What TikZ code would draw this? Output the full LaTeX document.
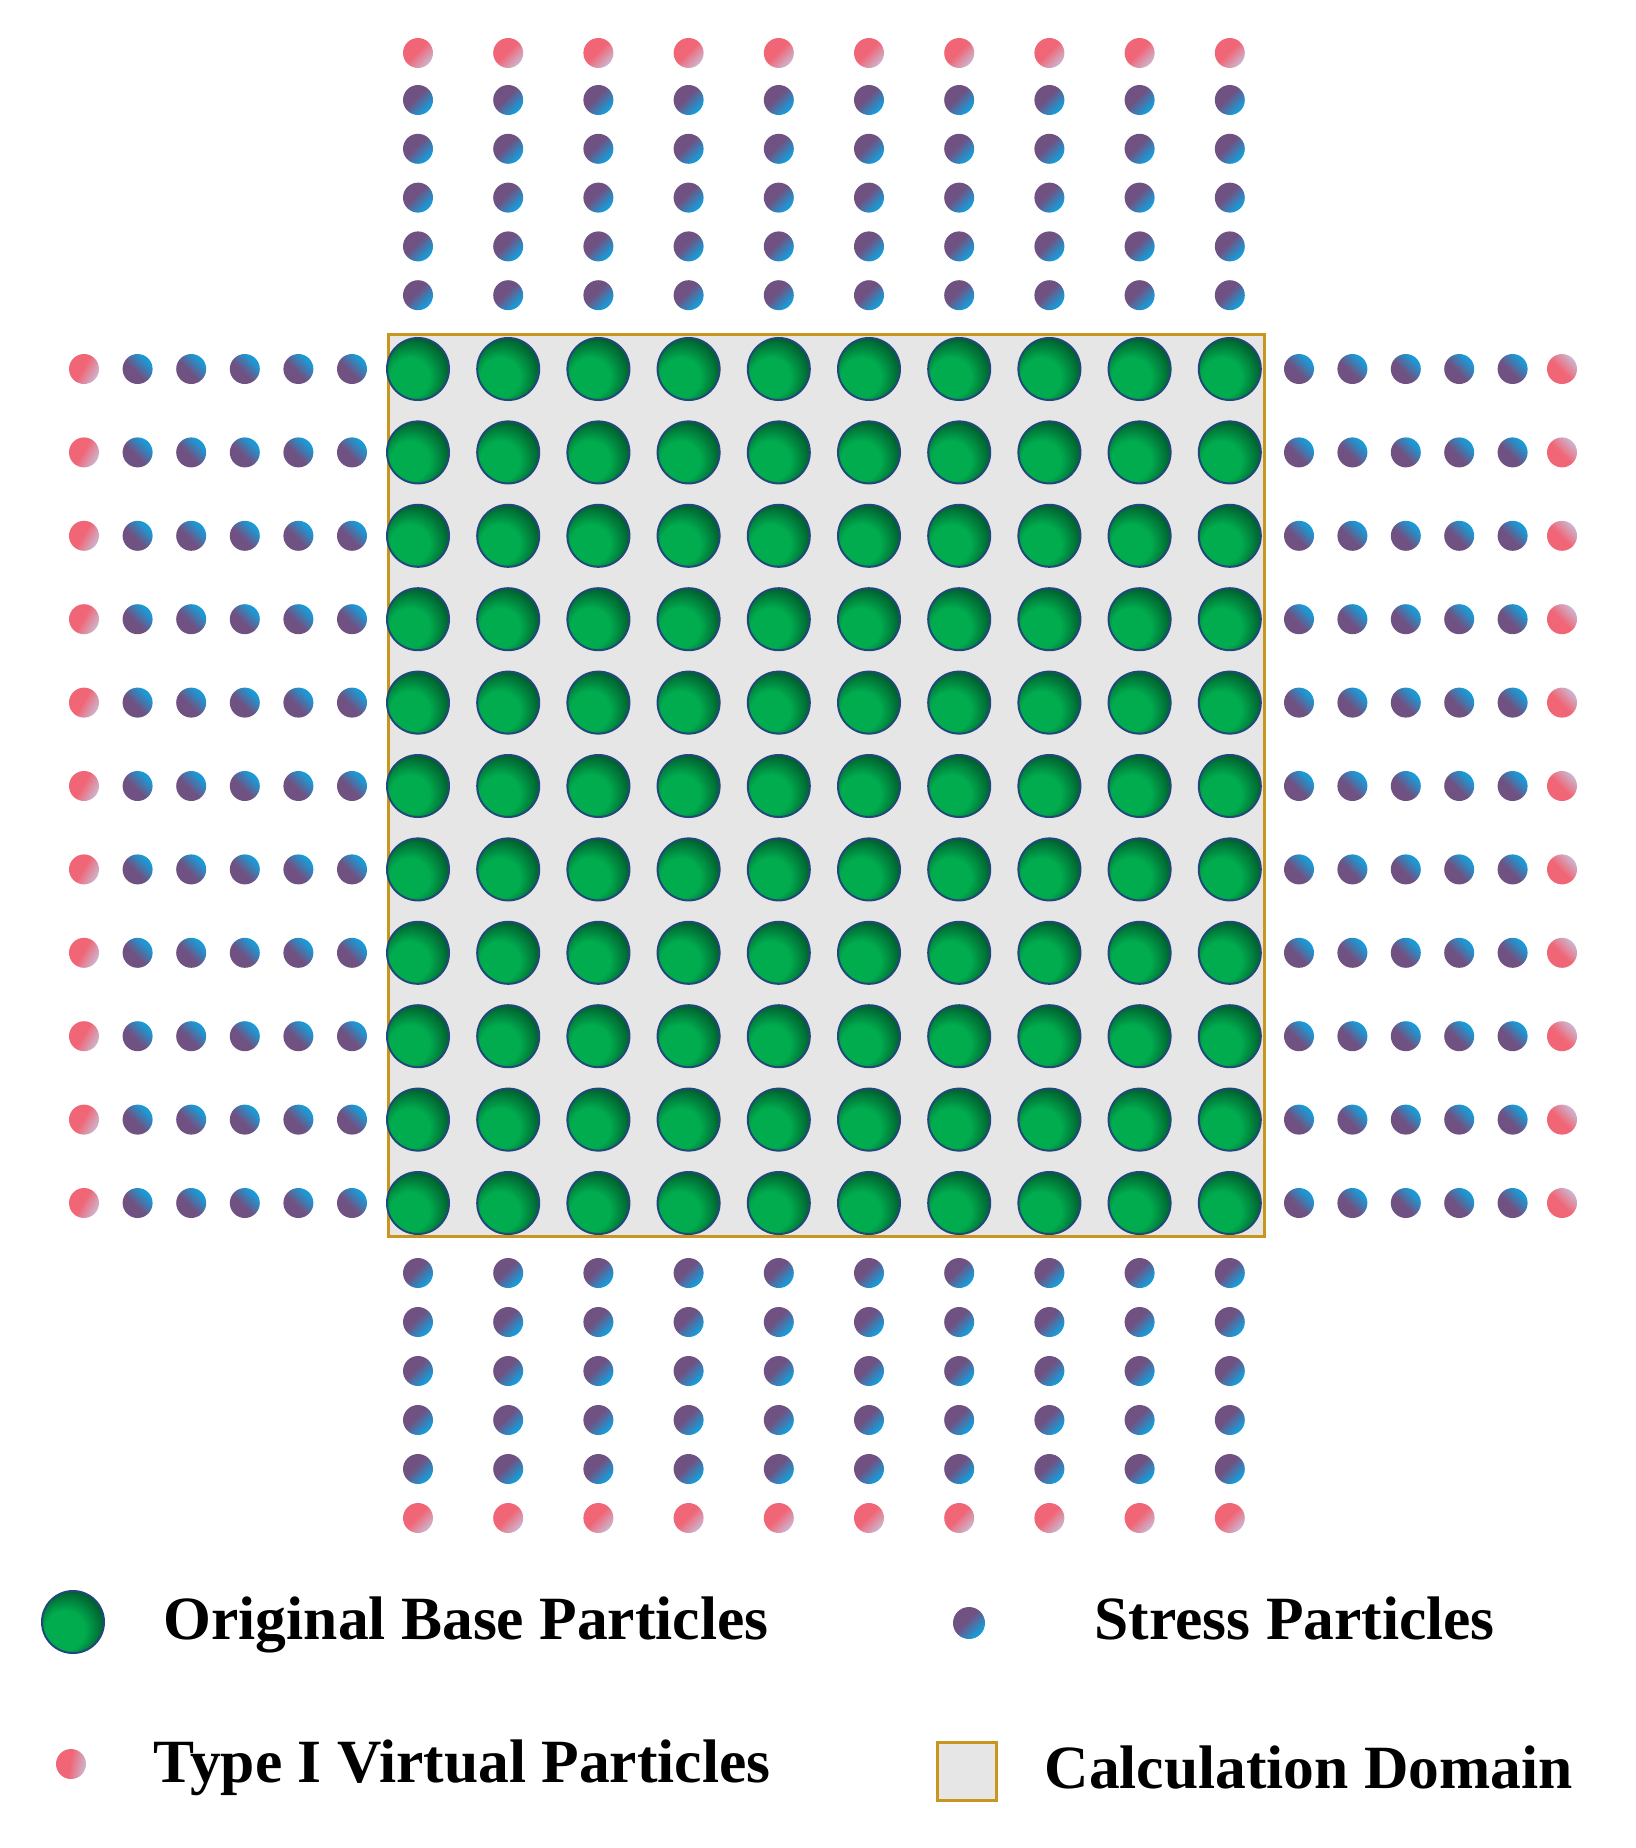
\documentclass[tikz,border=0pt]{standalone}
\usepackage{fontspec}
\setmainfont{Liberation Serif}
\definecolor{gball}{RGB}{0,172,78}
\definecolor{gdark}{RGB}{0,98,48}
\definecolor{grim}{RGB}{32,72,120}
\definecolor{spurple}{RGB}{112,82,130}
\definecolor{sblue}{RGB}{28,152,212}
\definecolor{vpink}{RGB}{240,102,118}
\definecolor{vlav}{RGB}{205,180,205}
\definecolor{dombg}{RGB}{230,230,230}
\definecolor{domline}{RGB}{200,150,30}
\pgfdeclareradialshading{greenball}{\pgfpoint{-10bp}{-10bp}}{color(0bp)=(gball); color(16bp)=(gball); color(29bp)=(gdark); color(50bp)=(gdark)}
\pgfdeclareverticalshading{stressball}{100bp}{color(0bp)=(spurple); color(45bp)=(spurple); color(70bp)=(sblue); color(100bp)=(sblue)}
\pgfdeclareverticalshading{virtball}{100bp}{color(0bp)=(vpink); color(48bp)=(vpink); color(74bp)=(vlav); color(100bp)=(vlav)}
\begin{document}
\begin{tikzpicture}[x=0.1mm,y=-0.1mm,
  basept/.style={shading=greenball,draw=grim,line width=0.2mm},
  stresspt/.style={shading=stressball},
  virtpt/.style={shading=virtball},
  domain box/.style={fill=dombg,draw=domline,line width=0.3mm},
  legtext/.style={anchor=base west,inner sep=0pt,font=\fontsize{17.5}{21}\selectfont\bfseries}]
\useasboundingbox (0,0) rectangle (1636,1848);
% calculation domain
\path[domain box] (388,334) rectangle (1264,1236);
% original base particles
\foreach \i in {0,...,9}
  \foreach \j in {0,...,10}
    \path[basept] (418+90.2*\i,369+83.4*\j) circle[radius=3.1mm];
% left and right rows
\foreach \j in {0,...,10} {
  \path[virtpt,shading angle=-120] (84,369+83.4*\j) circle[radius=1.5mm];
  \path[virtpt,shading angle=-45] (1562,369+83.4*\j) circle[radius=1.5mm];
  \foreach \k in {1,...,5}
    \path[stresspt,shading angle=-45] (84+53.6*\k,369+83.4*\j) circle[radius=1.5mm];
  \foreach \k in {0,...,4}
    \path[stresspt,shading angle=-45] (1299+53.4*\k,369+83.4*\j) circle[radius=1.5mm];
}
% top and bottom columns
\foreach \i in {0,...,9} {
  \path[virtpt,shading angle=-135] (418+90.2*\i,53) circle[radius=1.5mm];
  \path[virtpt,shading angle=-135] (418+90.2*\i,1518) circle[radius=1.5mm];
  \foreach \k in {0,...,4} {
    \path[stresspt,shading angle=-135] (418+90.2*\i,100+48.8*\k) circle[radius=1.5mm];
    \path[stresspt,shading angle=-135] (418+90.2*\i,1273+49*\k) circle[radius=1.5mm];
  }
}
% legend
\path[basept] (73,1622) circle[radius=3.1mm];
\node[legtext] (obp) at (163,1639) {Original Base Particles};
\path[stresspt,shading angle=-135] (969,1623) circle[radius=1.6mm];
\node[legtext] (sp) at (1094,1639) {Stress Particles};
\path[virtpt,shading angle=-100] (71,1764) circle[radius=1.5mm];
\node[legtext] (tvp) at (153,1782) {Type I Virtual Particles};
\path[domain box] (937,1742) rectangle (996,1800);
\node[legtext] (cd) at (1044,1788) {Calculation Domain};
\end{tikzpicture}
\end{document}
